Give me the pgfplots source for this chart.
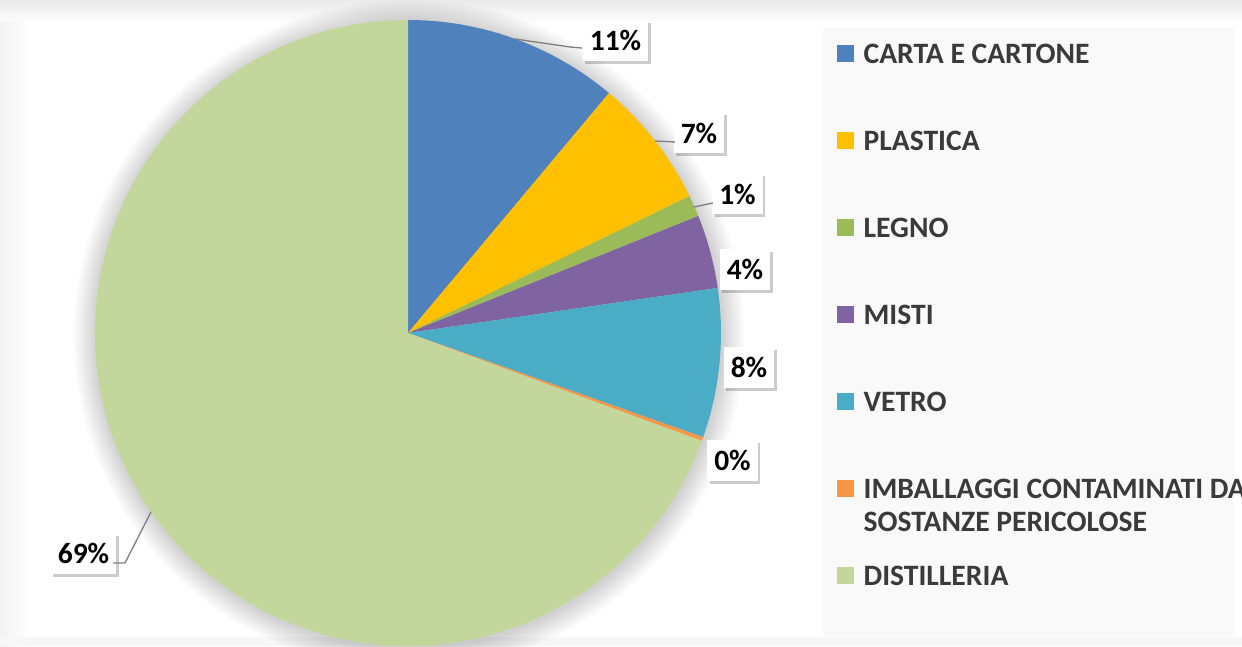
\documentclass[border=0pt]{standalone}
\usepackage{pgfplots}
\pgfplotsset{compat=1.18}
\usepackage{pgfplotstable}
\usepackage{fontspec}
\setmainfont{Carlito}
\usetikzlibrary{shadows}
\definecolor{cCarta}{HTML}{4F81BD}
\definecolor{cPlast}{HTML}{FFC000}
\definecolor{cLegno}{HTML}{9BBB59}
\definecolor{cMisti}{HTML}{8064A2}
\definecolor{cVetro}{HTML}{4BACC6}
\definecolor{cImb}{HTML}{F79646}
\definecolor{cDist}{HTML}{C3D69B}
\definecolor{legtext}{HTML}{3A3A3A}
\definecolor{leader}{HTML}{7F7F7F}

% share of each category (percent), label box centre (lx, ly)
\pgfplotstableread{
name  value lx    ly    col
Carta 11.1  615.5 605.5 cCarta
Plast 6.7   699   513   cPlast
Legno 1.1   737.5 452   cLegno
Misti 3.8   745   376.5 cMisti
Vetro 7.7   749   279   cVetro
Imb   0.2   732.5 186   cImb
Dist  69.4  83.5  92.5  cDist
}\pietable

\begin{document}
\begin{tikzpicture}[x=1pt,y=1pt,
  lbl/.style={fill=white, inner xsep=7pt, inner ysep=0pt, minimum height=41pt,
    font=\fontsize{29.5}{34}\selectfont\bfseries, text=black,
    drop shadow={shadow xshift=2.5pt, shadow yshift=-3pt, fill=black, opacity=0.2}}]
\useasboundingbox (0,0) rectangle (1242,646);
\clip (0,0) rectangle (1242,646);
% background
\fill[white] (0,0) rectangle (1242,646);
\shade[top color=black!8, bottom color=white] (0,622) rectangle (1242,646);
\shade[left color=black!5, right color=white] (0,0) rectangle (30,624);
\fill[black!3] (0,0) rectangle (1242,9);
\fill[black!2.5] (823,10) rectangle (1234,618);
% soft shadow of the pie
\foreach \k in {1,...,15} \fill[black, opacity=0.012] (409,311) circle ({313+1.5*\k});
\begin{axis}[at={(0,0)}, anchor=south west,
  width=1242pt, height=646pt, scale only axis,
  xmin=0, xmax=1242, ymin=0, ymax=646,
  hide axis, clip=false,
  legend image code/.code={\fill[#1] (0pt,-7.5pt) rectangle (16pt,8.5pt);},
  legend style={at={(axis cs:837,602)}, anchor=north west,
    draw=none, fill=none, inner sep=0pt, row sep=68pt, column sep=10pt,
    font=\fontsize{29.6}{34}\selectfont\bfseries, text=legtext,
    nodes={inner sep=0pt, text height=19pt, text depth=0pt}},
  legend cell align=left,
  legend columns=1,
]
\pgfmathsetmacro{\cum}{0}
\pgfplotsforeachungrouped \i in {0,...,6}{%
  \pgfplotstablegetelem{\i}{value}\of\pietable \let\v\pgfplotsretval
  \pgfplotstablegetelem{\i}{col}\of\pietable \let\c\pgfplotsretval
  \pgfplotstablegetelem{\i}{lx}\of\pietable \let\lx\pgfplotsretval
  \pgfplotstablegetelem{\i}{ly}\of\pietable \let\ly\pgfplotsretval
  \pgfmathsetmacro{\a}{90-3.6*\cum}
  \pgfmathsetmacro{\b}{90-3.6*(\cum+\v)}
  \pgfmathsetmacro{\sx}{408+313*cos(\a)}
  \pgfmathsetmacro{\sy}{313+313*sin(\a)}
  \pgfmathtruncatemacro{\r}{round(\v)}
  \edef\temp{\noexpand\fill[\c] (axis cs:408,313) -- (axis cs:\sx,\sy)
      arc[start angle=\a, end angle=\b, radius=313pt] -- cycle;
    \noexpand\node[lbl] at (axis cs:\lx,\ly) {\r\noexpand\%};}%
  \temp
  \pgfmathsetmacro{\cum}{\cum+\v}%
}
% leader lines
\draw[leader, line width=1.3pt] (axis cs:515,607) -- (axis cs:570,599) -- (axis cs:582,598);
\draw[leader, line width=1.3pt] (axis cs:655,505) -- (axis cs:675,504);
\draw[leader, line width=1.3pt] (axis cs:694,439) -- (axis cs:713,443);
\draw[leader, line width=1.3pt] (axis cs:151,134) -- (axis cs:125,83) -- (axis cs:113,83);
\addlegendimage{cCarta}
\addlegendentry{CARTA E CARTONE}
\addlegendimage{cPlast}
\addlegendentry{PLASTICA}
\addlegendimage{cLegno}
\addlegendentry{LEGNO}
\addlegendimage{cMisti}
\addlegendentry{MISTI}
\addlegendimage{cVetro}
\addlegendentry{VETRO}
\addlegendimage{cImb}
\addlegendentry{\parbox[t]{420pt}{\baselineskip=33pt IMBALLAGGI CONTAMINATI DA\\SOSTANZE PERICOLOSE}}
\addlegendimage{cDist}
\addlegendentry{DISTILLERIA}
\end{axis}
\end{tikzpicture}
\end{document}
